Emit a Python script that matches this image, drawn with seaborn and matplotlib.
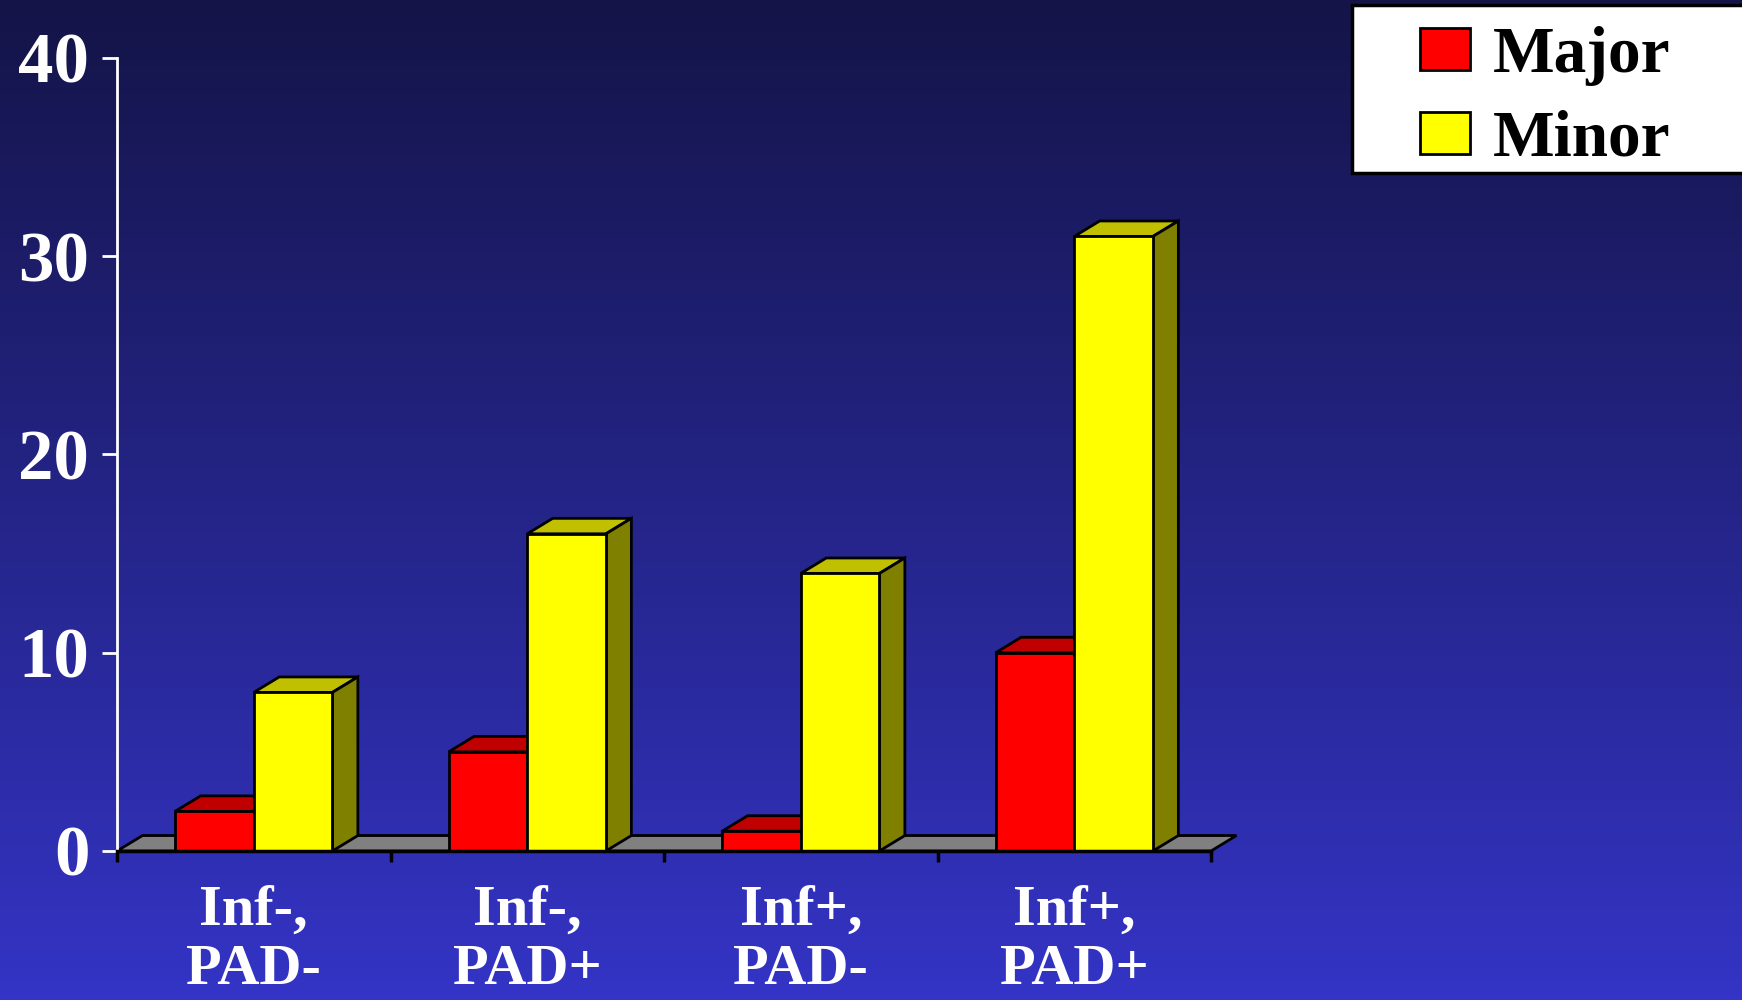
import matplotlib
matplotlib.use('Agg')
import matplotlib.pyplot as plt
import numpy as np
import pandas as pd
import seaborn as sns
from matplotlib.patches import Polygon, Rectangle

groups = ['Inf-,\nPAD-', 'Inf-,\nPAD+', 'Inf+,\nPAD-', 'Inf+,\nPAD+']
major = [2, 5, 1, 10]
minor = [8, 16, 14, 31]
y_ticks = [0, 10, 20, 30, 40]

df = pd.DataFrame({
    'group': groups * 2,
    'type': ['Major'] * 4 + ['Minor'] * 4,
    'value': major + minor,
})

sns.set_style('white')
plt.rcParams['font.family'] = ['Liberation Serif', 'DejaVu Serif']
plt.rcParams['font.weight'] = 'bold'

fig = plt.figure(figsize=(17.42, 10), dpi=100)

# gradient background
bg = fig.add_axes([0, 0, 1, 1], zorder=-10)
top = np.array([20, 20, 72]) / 255
bot = np.array([52, 52, 198]) / 255
t = np.linspace(0, 1, 256)[:, None]
grad = top[None, :] * (1 - t) + bot[None, :] * t
bg.imshow(grad[:, None, :], aspect='auto', extent=[0, 1, 0, 1])
bg.axis('off')

ax = fig.add_axes([0.0672, 0.149, 0.6280, 0.793])
ax.set_facecolor('none')

sns.barplot(data=df, x='group', y='value', hue='type',
            palette=['#FF0000', '#FFFF00'], saturation=1,
            edgecolor='black', linewidth=2,
            width=0.575, dodge=True, ax=ax, zorder=3, legend=True)

ax.set_xlim(-0.5, 3.5)
ax.set_ylim(0, 40)

# depth offsets in data units
dx, dy = 0.093, 0.78
top_cols = ['#C00000', '#C0C000']
side_cols = ['#800000', '#808000']

# floor
floor = Polygon([(-0.5, 0), (3.5, 0), (3.5 + dx, dy), (-0.5 + dx, dy)],
                closed=True, facecolor='#808080', edgecolor='black',
                linewidth=2, zorder=1, clip_on=False)
ax.add_patch(floor)

for ci, cont in enumerate(ax.containers):
    for bar in cont:
        x0 = bar.get_x()
        w = bar.get_width()
        h = bar.get_height()
        bar.set_zorder(3 + ci * 2)
        topf = Polygon([(x0, h), (x0 + w, h), (x0 + w + dx, h + dy), (x0 + dx, h + dy)],
                       closed=True, facecolor=top_cols[ci], edgecolor='black',
                       linewidth=2, zorder=2 + ci * 2, clip_on=False)
        side = Polygon([(x0 + w, 0), (x0 + w + dx, dy), (x0 + w + dx, h + dy), (x0 + w, h)],
                       closed=True, facecolor=side_cols[ci], edgecolor='black',
                       linewidth=2, zorder=2 + ci * 2, clip_on=False)
        ax.add_patch(topf)
        ax.add_patch(side)

# axes styling
for s in ['top', 'right']:
    ax.spines[s].set_visible(False)
ax.spines['left'].set_color('white')
ax.spines['left'].set_linewidth(2)
ax.spines['bottom'].set_color('black')
ax.spines['bottom'].set_linewidth(2.5)
ax.spines['bottom'].set_zorder(10)

ax.set_yticks(y_ticks)
ax.set_yticklabels([str(v) for v in y_ticks])
ax.tick_params(axis='y', colors='white', length=11, width=2, pad=9,
               labelsize=51, direction='out', left=True)
for lab in ax.get_yticklabels():
    lab.set_fontweight('bold')

ax.set_xticks(range(len(groups)))
ax.set_xticklabels(groups, linespacing=1.18)
ax.tick_params(axis='x', which='major', length=0, pad=24, labelsize=42,
               labelcolor='white')
for lab in ax.get_xticklabels():
    lab.set_fontweight('bold')
ax.set_xticks(np.arange(-0.5, 4, 1), minor=True)
ax.tick_params(axis='x', which='minor', length=8, width=2.5, color='black',
               direction='out', bottom=True)

ax.set_xlabel('')
ax.set_ylabel('')

# legend box (white, runs off the right edge)
box = Rectangle((1352 / 1742, 1 - 173 / 1000), 0.3, 168 / 1000,
                transform=fig.transFigure, facecolor='white', edgecolor='black',
                linewidth=2.5, zorder=-5)
fig.add_artist(box)

lfs = 47
lpx = lfs * 100 / 72
handles, labels = ax.get_legend_handles_labels()
leg = ax.legend(handles, labels, loc='upper left',
                bbox_to_anchor=(1420 / 1742, 1 - 26 / 1000),
                bbox_transform=fig.transFigure, frameon=False,
                handlelength=50 / lpx, handleheight=40 / lpx,
                handletextpad=0.35, borderpad=0, labelspacing=0.36,
                borderaxespad=0, labelcolor='black',
                prop={'family': 'Liberation Serif', 'weight': 'bold', 'size': lfs})
for hnd in leg.legend_handles:
    hnd.set_edgecolor('black')
    hnd.set_linewidth(2)

fig.savefig('out.png', dpi=100)
